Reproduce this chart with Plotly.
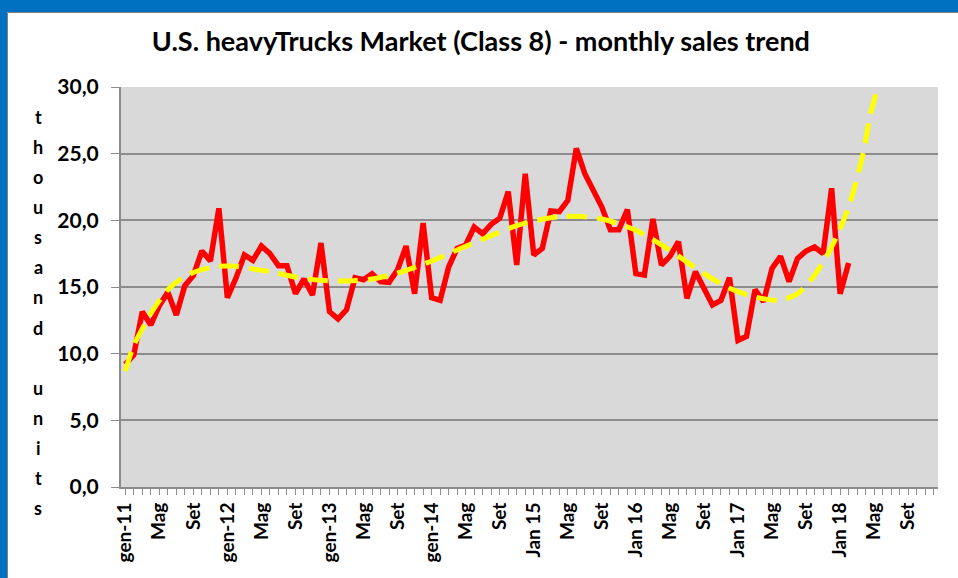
import plotly.graph_objects as go

# ---- data ----
sales = [9.2, 9.9, 13.15, 12.15, 13.6, 14.6, 12.9, 15.1, 15.85, 17.7, 16.95, 20.9,
         14.2, 15.65, 17.4, 17.0, 18.07, 17.5, 16.6, 16.6, 14.5, 15.6, 14.4, 18.3,
         13.15, 12.6, 13.3, 15.7, 15.55, 16.0, 15.4, 15.35, 16.3, 18.07, 14.5, 19.8,
         14.2, 14.0, 16.5, 17.9, 18.15, 19.5, 19.0, 19.7, 20.15, 22.15, 16.65, 23.5,
         17.4, 17.9, 20.7, 20.65, 21.5, 25.4, 23.5, 22.15, 21.0, 19.3,
         19.3, 20.8, 16.0, 15.9, 20.1, 16.65, 17.3, 18.4, 14.15, 16.15, 14.8, 13.65, 14.0, 15.7,
         11.0, 11.3, 14.8, 13.9, 16.4, 17.3, 15.4, 17.15, 17.7, 18.0, 17.5, 22.4,
         14.5, 16.8]

trend_x = [0, 1, 3, 5, 7, 9, 11, 13, 15, 17.5, 20, 23, 26, 29, 32, 36, 40, 43, 46,
           50, 53, 56, 60, 64, 68, 71, 74, 77, 79, 81, 83, 85, 86.7, 87.5, 88.4, 89.2]
trend_y = [8.7, 10.6, 13.0, 14.8, 15.8, 16.3, 16.55, 16.55, 16.35, 16.1, 15.75, 15.5,
           15.45, 15.6, 16.05, 16.95, 18.05, 18.85, 19.6, 20.2, 20.3, 20.1, 19.25, 17.75,
           16.0, 14.9, 14.25, 14.0, 14.5, 15.9, 18.0, 21.0, 25.0, 27.8, 30.0, 33.0]

n_months = 96
tick_label_months = list(range(0, 96, 4))
tick_labels = ["gen-11", "Mag", "Set", "gen-12", "Mag", "Set", "gen-13", "Mag", "Set",
               "gen-14", "Mag", "Set", "Jan 15", "Mag", "Set", "Jan 16", "Mag", "Set",
               "Jan 17", "Mag", "Set", "Jan 18", "Mag", "Set"]
y_ticks = [0, 5, 10, 15, 20, 25, 30]
y_title_letters = ["t", "h", "o", "u", "s", "a", "n", "d", "", "u", "n", "i", "t", "s"]

# ---- figure ----
W, H = 958, 578
L, R, T, B = 121, 20, 87, 91
plot_h = H - T - B

ticktext = [""] * n_months
for m, lab in zip(tick_label_months, tick_labels):
    ticktext[m] = lab

fig = go.Figure()
fig.add_trace(go.Scatter(
    x=list(range(len(sales))), y=sales, mode="lines",
    line=dict(color="#FF0000", width=5.5), hoverinfo="skip", showlegend=False))
fig.add_trace(go.Scatter(
    x=trend_x, y=trend_y, mode="lines",
    line=dict(color="#FFFF00", width=5, dash="20px,10px", shape="spline", smoothing=0.8),
    hoverinfo="skip", showlegend=False))

FONT = "Lato"
GRID = "#8C8C8C"

fig.update_layout(
    width=W, height=H,
    margin=dict(l=L, r=R, t=T, b=B),
    paper_bgcolor="white", plot_bgcolor="#D9D9D9",
    separators=",.",
    font=dict(family=FONT, color="black"),
    title=dict(text="<b>U.S. heavyTrucks Market (Class 8) - monthly sales trend</b>",
               x=0.502, xref="container", xanchor="center",
               y=1 - 42 / H, yref="container", yanchor="middle",
               font=dict(family=FONT, size=27, color="black", weight="bold")),
    xaxis=dict(range=[-0.5, n_months - 0.5], tickmode="array",
               tickvals=list(range(n_months)), ticktext=ticktext,
               tickangle=-90, ticks="outside", ticklen=6, tickwidth=1, tickcolor=GRID,
               showline=True, linecolor=GRID, linewidth=2, showgrid=False, zeroline=False,
               tickfont=dict(family=FONT, size=19, color="black", weight="bold"),
               fixedrange=True),
    yaxis=dict(range=[0, 30], tickmode="array", tickvals=y_ticks, tickformat=".1f",
               ticks="outside", ticklen=8, tickcolor=GRID, tickwidth=1,
               showline=True, linecolor=GRID, linewidth=2,
               showgrid=True, gridcolor=GRID, gridwidth=2, zeroline=False,
               ticklabelstandoff=8,
               tickfont=dict(family=FONT, size=21, color="black", weight="bold"),
               fixedrange=True),
)

for k, ch in enumerate(y_title_letters):
    if not ch:
        continue
    ypx = 117 + 30.08 * k
    fig.add_annotation(text=ch, xref="paper", yref="paper",
                       x=(38 - L) / (W - L - R), y=(H - B - ypx) / plot_h,
                       xanchor="center", yanchor="middle", showarrow=False,
                       font=dict(family=FONT, size=18, color="black", weight="bold"))

# blue frame (top and left bands)
pw = W - L - R
def px_x(v):
    return (v - L) / pw
def px_y(v):
    return (H - B - v) / plot_h

fig.add_shape(type="rect", xref="paper", yref="paper",
              x0=px_x(-5), x1=px_x(W + 5), y0=px_y(12), y1=px_y(-5),
              fillcolor="#0070C0", line=dict(width=0), layer="above")
fig.add_shape(type="rect", xref="paper", yref="paper",
              x0=px_x(-5), x1=px_x(7), y0=px_y(H + 5), y1=px_y(-5),
              fillcolor="#0070C0", line=dict(width=0), layer="above")
fig.add_shape(type="line", xref="paper", yref="paper",
              x0=px_x(7.5), x1=px_x(W + 5), y0=px_y(12.5), y1=px_y(12.5),
              line=dict(color="#7F7F7F", width=1), layer="above")
fig.add_shape(type="line", xref="paper", yref="paper",
              x0=px_x(7.5), x1=px_x(7.5), y0=px_y(12.5), y1=px_y(H + 5),
              line=dict(color="#7F7F7F", width=1), layer="above")

fig.write_html("out.html", config={"displayModeBar": False},
               post_script="document.body.style.margin='0px';document.body.style.overflow='hidden';")
